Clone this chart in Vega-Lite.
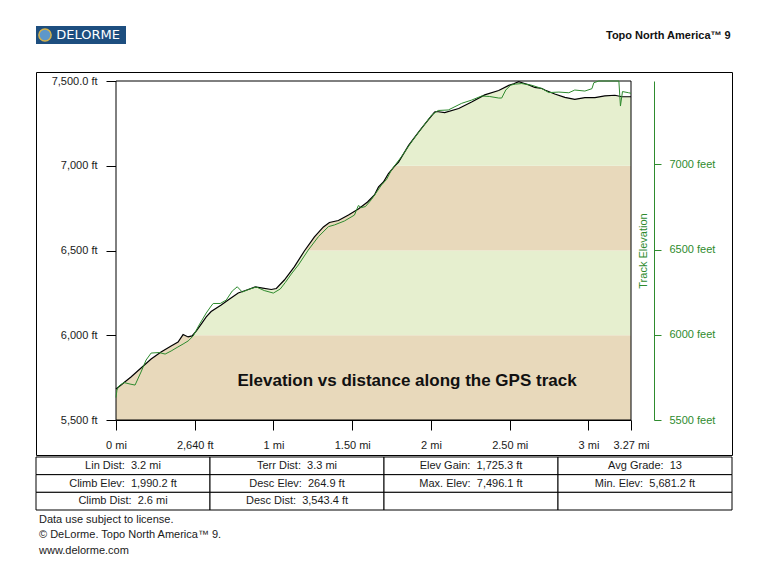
{
  "$schema": "https://vega.github.io/schema/vega-lite/v6.json",
  "background": "white",
  "padding": {"left": 35, "top": 25, "right": 4, "bottom": 4},
  "config": {
    "font": "Liberation Sans",
    "view": {"stroke": null},
    "axis": {"grid": false, "labelFont": "Liberation Sans", "labelFontSize": 11, "labelColor": "#1a1a1a", "domainColor": "#000000", "tickColor": "#000000", "domainWidth": 1, "tickWidth": 1},
    "title": {"font": "Liberation Sans"}
  },
  "datasets": {
    "terrain": [
      {"d":0,"elev":5683},{"d":0.032,"elev":5706},{"d":0.095,"elev":5754},{"d":0.159,"elev":5807},{"d":0.223,"elev":5860},{"d":0.286,"elev":5901},{"d":0.35,"elev":5937},{"d":0.394,"elev":5960},{"d":0.426,"elev":6004},{"d":0.458,"elev":5990},{"d":0.483,"elev":5996},{"d":0.509,"elev":6025},{"d":0.541,"elev":6066},{"d":0.573,"elev":6108},{"d":0.604,"elev":6140},{"d":0.668,"elev":6179},{"d":0.712,"elev":6208},{"d":0.776,"elev":6249},{"d":0.84,"elev":6270},{"d":0.884,"elev":6285},{"d":0.922,"elev":6279},{"d":0.986,"elev":6270},{"d":1.018,"elev":6276},{"d":1.069,"elev":6326},{"d":1.132,"elev":6403},{"d":1.196,"elev":6497},{"d":1.26,"elev":6580},{"d":1.317,"elev":6639},{"d":1.355,"elev":6665},{"d":1.412,"elev":6677},{"d":1.476,"elev":6710},{"d":1.539,"elev":6745},{"d":1.597,"elev":6786},{"d":1.641,"elev":6828},{"d":1.667,"elev":6875},{"d":1.698,"elev":6904},{"d":1.73,"elev":6954},{"d":1.768,"elev":6996},{"d":1.794,"elev":7022},{"d":1.858,"elev":7120},{"d":1.921,"elev":7199},{"d":1.947,"elev":7229},{"d":1.985,"elev":7273},{"d":2.023,"elev":7317},{"d":2.036,"elev":7320},{"d":2.087,"elev":7314},{"d":2.176,"elev":7338},{"d":2.258,"elev":7376},{"d":2.341,"elev":7418},{"d":2.43,"elev":7444},{"d":2.494,"elev":7474},{"d":2.525,"elev":7484},{"d":2.557,"elev":7496},{"d":2.589,"elev":7487},{"d":2.621,"elev":7477},{"d":2.659,"elev":7462},{"d":2.704,"elev":7456},{"d":2.723,"elev":7447},{"d":2.786,"elev":7423},{"d":2.85,"elev":7403},{"d":2.913,"elev":7392},{"d":2.977,"elev":7402},{"d":3.041,"elev":7402},{"d":3.104,"elev":7412},{"d":3.168,"elev":7416},{"d":3.212,"elev":7407},{"d":3.27,"elev":7407}
    ],
    "gps": [
      {"d":0,"gps":5632},{"d":0.006,"gps":5676},{"d":0.019,"gps":5700},{"d":0.051,"gps":5720},{"d":0.089,"gps":5711},{"d":0.121,"gps":5705},{"d":0.159,"gps":5782},{"d":0.191,"gps":5852},{"d":0.223,"gps":5893},{"d":0.274,"gps":5896},{"d":0.312,"gps":5887},{"d":0.35,"gps":5905},{"d":0.388,"gps":5926},{"d":0.426,"gps":5946},{"d":0.458,"gps":5964},{"d":0.49,"gps":5993},{"d":0.528,"gps":6058},{"d":0.573,"gps":6128},{"d":0.604,"gps":6169},{"d":0.617,"gps":6184},{"d":0.662,"gps":6184},{"d":0.7,"gps":6204},{"d":0.738,"gps":6257},{"d":0.77,"gps":6282},{"d":0.802,"gps":6251},{"d":0.84,"gps":6266},{"d":0.891,"gps":6281},{"d":0.941,"gps":6260},{"d":0.999,"gps":6245},{"d":1.043,"gps":6269},{"d":1.075,"gps":6307},{"d":1.113,"gps":6357},{"d":1.158,"gps":6410},{"d":1.221,"gps":6498},{"d":1.285,"gps":6576},{"d":1.349,"gps":6635},{"d":1.387,"gps":6645},{"d":1.45,"gps":6668},{"d":1.514,"gps":6703},{"d":1.539,"gps":6759},{"d":1.558,"gps":6747},{"d":1.584,"gps":6753},{"d":1.622,"gps":6794},{"d":1.686,"gps":6880},{"d":1.718,"gps":6912},{"d":1.749,"gps":6968},{"d":1.813,"gps":7046},{"d":1.877,"gps":7134},{"d":1.94,"gps":7212},{"d":2.004,"gps":7290},{"d":2.046,"gps":7317},{"d":2.11,"gps":7320},{"d":2.195,"gps":7359},{"d":2.258,"gps":7378},{"d":2.322,"gps":7402},{"d":2.373,"gps":7399},{"d":2.43,"gps":7390},{"d":2.449,"gps":7390},{"d":2.475,"gps":7437},{"d":2.506,"gps":7466},{"d":2.538,"gps":7472},{"d":2.576,"gps":7475},{"d":2.64,"gps":7465},{"d":2.704,"gps":7446},{"d":2.748,"gps":7422},{"d":2.812,"gps":7425},{"d":2.875,"gps":7421},{"d":2.913,"gps":7437},{"d":2.977,"gps":7431},{"d":3.022,"gps":7445},{"d":3.034,"gps":7480},{"d":3.066,"gps":7503},{"d":3.117,"gps":7520},{"d":3.193,"gps":7520},{"d":3.203,"gps":7343},{"d":3.216,"gps":7428},{"d":3.255,"gps":7421},{"d":3.27,"gps":7418}
    ],
    "bands": [
      {"lo":5500,"hi":6000,"zone":"z1"},
      {"lo":6000,"hi":6500,"zone":"z2"},
      {"lo":6500,"hi":7000,"zone":"z3"},
      {"lo":7000,"hi":7500,"zone":"z4"}
    ],
    "stats": [
      {"r":1,"c":1,"t":"Lin Dist:\u00a0 3.2 mi"},
      {"r":1,"c":2,"t":"Terr Dist:\u00a0 3.3 mi"},
      {"r":1,"c":3,"t":"Elev Gain:\u00a0 1,725.3 ft"},
      {"r":1,"c":4,"t":"Avg Grade:\u00a0 13"},
      {"r":2,"c":1,"t":"Climb Elev:\u00a0 1,990.2 ft"},
      {"r":2,"c":2,"t":"Desc Elev:\u00a0 264.9 ft"},
      {"r":2,"c":3,"t":"Max. Elev:\u00a0 7,496.1 ft"},
      {"r":2,"c":4,"t":"Min. Elev:\u00a0 5,681.2 ft"},
      {"r":3,"c":1,"t":"Climb Dist:\u00a0 2.6 mi"},
      {"r":3,"c":2,"t":"Desc Dist:\u00a0 3,543.4 ft"},
      {"r":3,"c":3,"t":""},
      {"r":3,"c":4,"t":""}
    ]
  },
  "spacing": 26,
  "vconcat": [
    {
      "width": 90,
      "height": 18,
      "view": {"fill": "#1d4e7f", "stroke": null},
      "data": {"values": [{"brand": "DELORME", "product": "Topo North America™ 9"}]},
      "layer": [
        {"mark": {"type": "circle", "size": 150, "fill": "#5d97c9", "stroke": "#d6b24a", "strokeWidth": 1.5, "opacity": 1, "xOffset": -36}, "encoding": {}},
        {"mark": {"type": "text", "color": "white", "fontSize": 13, "font": "DejaVu Sans", "dx": 7, "baseline": "middle"}, "encoding": {"text": {"field": "brand"}}},
        {"mark": {"type": "text", "color": "#111111", "fontSize": 11, "fontWeight": "bold", "align": "left", "dx": 525, "dy": 1, "baseline": "middle"}, "encoding": {"text": {"field": "product"}}}
      ]
    },
    {
      "spacing": 0,
      "vconcat": [
        {
          "width": 696,
          "height": 383,
          "view": {"stroke": "#000000", "strokeWidth": 1, "fill": "white"},
          "resolve": {"scale": {"y": "independent"}},
          "layer": [
            {
              "layer": [
                {
                  "data": {"name": "bands"},
                  "mark": {"type": "rect"},
                  "encoding": {
                    "x": {"datum": 0, "type": "quantitative", "scale": {"domain": [0, 3.27], "range": [80, 595], "nice": false, "zero": false}},
                    "x2": {"datum": 3.27},
                    "y": {"field": "lo", "type": "quantitative", "scale": {"domain": [5500, 7500], "range": [348, 9], "nice": false, "zero": false}},
                    "y2": {"field": "hi"},
                    "color": {"field": "zone", "type": "nominal", "scale": {"domain": ["z1", "z2", "z3", "z4"], "range": ["#e8d9bb", "#e6efcf", "#e8d9bb", "#e6efcf"]}, "legend": null}
                  }
                },
                {
                  "data": {"name": "terrain"},
                  "mark": {"type": "area", "color": "white"},
                  "encoding": {
                    "x": {"field": "d", "type": "quantitative"},
                    "y": {"field": "elev", "type": "quantitative"},
                    "y2": {"datum": 7500}
                  }
                },
                {
                  "data": {"name": "terrain"},
                  "mark": {"type": "line", "color": "#000000", "strokeWidth": 1.2},
                  "encoding": {
                    "x": {"field": "d", "type": "quantitative", "scale": {"domain": [0, 3.27], "range": [80, 595], "nice": false, "zero": false},
                      "axis": {"orient": "bottom", "offset": -35, "title": null, "values": [0, 0.5, 1, 1.5, 2, 2.5, 3, 3.27], "labelExpr": "datum.value == 0 ? '0 mi' : datum.value == 0.5 ? '2,640 ft' : datum.value == 1 ? '1 mi' : datum.value == 1.5 ? '1.50 mi' : datum.value == 2 ? '2 mi' : datum.value == 2.5 ? '2.50 mi' : datum.value == 3 ? '3 mi' : '3.27 mi'", "tickSize": 10, "labelPadding": 9, "labelFlush": false, "labelOverlap": false}},
                    "y": {"field": "elev", "type": "quantitative", "scale": {"domain": [5500, 7500], "range": [348, 9], "nice": false, "zero": false},
                      "axis": {"orient": "left", "offset": -80, "title": null, "values": [5500, 6000, 6500, 7000, 7500], "labelExpr": "datum.value == 7500 ? '7,500.0 ft' : format(datum.value, ',') + ' ft'", "tickSize": 10, "labelPadding": 9, "labelOverlap": false}}
                  }
                },
                {
                  "data": {"values": [{"label": "Elevation vs distance along the GPS track"}]},
                  "mark": {"type": "text", "fontSize": 17, "fontWeight": "bold", "color": "#111111"},
                  "encoding": {
                    "x": {"datum": 1.848, "type": "quantitative"},
                    "y": {"datum": 5730, "type": "quantitative"},
                    "text": {"field": "label"}
                  }
                },
                {
                  "data": {"values": [{"frame": "plot"}]},
                  "mark": {"type": "rect", "filled": false, "stroke": "#000000", "strokeWidth": 1},
                  "encoding": {
                    "x": {"datum": 0, "type": "quantitative"},
                    "x2": {"datum": 3.27},
                    "y": {"datum": 5500, "type": "quantitative"},
                    "y2": {"datum": 7500}
                  }
                }
              ]
            },
            {
              "data": {"name": "gps"},
              "mark": {"type": "line", "color": "#2e8b2e", "strokeWidth": 1},
              "encoding": {
                "x": {"field": "d", "type": "quantitative", "scale": {"domain": [0, 3.27], "range": [80, 595], "nice": false, "zero": false}},
                "y": {"field": "gps", "type": "quantitative", "scale": {"domain": [5500, 7490], "range": [348, 9], "nice": false, "zero": false, "clamp": true},
                  "axis": {"orient": "right", "offset": -78, "title": "Track Elevation", "titleColor": "#2e8b2e", "titleFontWeight": "normal", "titleFontSize": 11, "titleAngle": 270, "titleX": -11, "titleY": 178.5, "titleAlign": "center", "titleBaseline": "middle", "values": [5500, 6000, 6500, 7000], "labelExpr": "datum.value + ' feet'", "labelColor": "#2e8b2e", "domainColor": "#2e8b2e", "tickColor": "#2e8b2e", "tickSize": 7, "labelPadding": 8, "labelOverlap": false}}
              }
            }
          ]
        },
        {
          "width": 696,
          "height": 53,
          "data": {"name": "stats"},
          "view": {"stroke": null},
          "title": {"text": ["Data use subject to license.", "© DeLorme. Topo North America™ 9.", "www.delorme.com"], "orient": "bottom", "anchor": "start", "frame": "group", "offset": 3, "dx": 3, "fontSize": 11, "fontWeight": "normal", "color": "#1a1a1a", "lineHeight": 15.5, "baseline": "top"},
          "layer": [
            {
              "mark": {"type": "rect", "fill": "white", "stroke": "#000000", "strokeWidth": 1},
              "encoding": {
                "x": {"field": "c", "type": "ordinal", "scale": {"paddingInner": 0, "paddingOuter": 0}, "axis": null},
                "y": {"field": "r", "type": "ordinal", "scale": {"paddingInner": 0, "paddingOuter": 0}, "axis": null}
              }
            },
            {
              "mark": {"type": "text", "fontSize": 11, "color": "#1a1a1a", "baseline": "middle"},
              "encoding": {
                "x": {"field": "c", "type": "ordinal", "axis": null},
                "y": {"field": "r", "type": "ordinal", "axis": null},
                "text": {"field": "t"}
              }
            }
          ]
        }
      ]
    }
  ]
}
